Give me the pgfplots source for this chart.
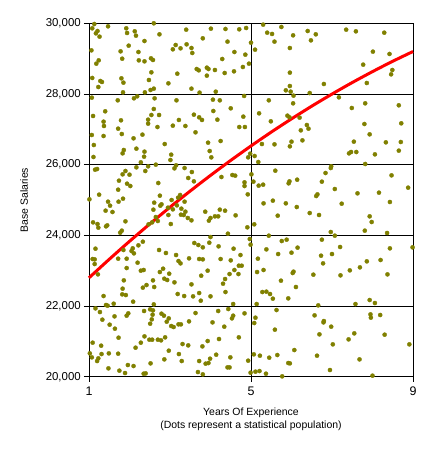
\documentclass[border=0pt]{standalone}
\usepackage{fontspec}
\setmainfont{Liberation Sans}
\usepackage{pgfplots}
\usepackage{pgfplotstable}
\pgfplotsset{compat=1.18}
\definecolor{dotolive}{RGB}{128,128,0}
\pgfplotstableread{
x y
1.13 29980
1.08 29858
1.21 29782
1.17 29716
1.26 29622
1.47 29914
1.92 29858
1.94 29726
2.13 29773
2.16 29650
2.60 30000
2.74 29688
2.37 29499
1.98 29367
3.40 29820
4.01 29848
4.37 29839
4.71 29830
4.88 29867
3.81 29575
4.42 29481
1.06 29235
1.78 29207
2.22 29188
3.07 29264
3.14 29386
3.26 29292
3.41 29405
3.53 29301
3.55 29160
4.59 29188
4.86 29113
4.29 28990
4.95 28858
1.82 28999
2.23 28952
2.37 28924
2.53 29009
2.58 28962
1.24 28952
1.18 28858
1.08 28453
1.28 28368
1.32 28340
1.23 28198
1.80 28443
1.85 28321
2.48 28396
2.54 28613
2.96 28302
3.18 28575
3.66 28707
3.71 28670
3.91 28745
3.95 28707
4.11 28679
4.35 28594
4.58 28641
4.80 28764
3.91 28519
3.53 28151
3.73 28038
4.13 28066
1.84 28047
2.38 28047
2.52 28113
2.60 28151
1.07 27896
1.71 27821
2.11 27878
2.19 27934
2.62 27878
3.16 27821
4.06 27840
4.23 27821
4.83 27944
4.50 27595
4.07 27519
1.10 27378
1.40 27510
1.36 27217
1.37 27095
1.79 27255
1.72 27019
1.81 26868
2.46 27274
2.46 27161
2.54 27406
2.60 27576
2.73 27406
2.69 27066
3.07 27104
3.22 27265
3.38 27095
3.59 27415
3.72 27340
3.79 27265
4.17 27274
3.63 26916
4.71 27066
4.85 27066
4.81 27359
1.07 26840
1.36 26812
2.32 26850
2.10 26746
1.12 26557
1.11 26218
1.86 26416
1.83 26321
2.17 26453
2.37 26369
2.36 26227
2.87 26585
3.03 26284
3.01 26133
3.94 26623
4.25 26670
3.98 26387
4.02 26208
2.28 26067
2.17 25925
2.46 25954
2.65 26001
2.39 25822
3.15 25982
3.11 25897
3.36 25906
3.54 25793
3.45 25624
3.59 25529
1.15 25859
1.20 25878
1.83 25727
1.90 25822
2.00 25718
1.74 25548
1.94 25463
2.02 25397
1.72 25293
1.25 25152
1.01 25020
1.47 24954
1.52 24841
1.41 24699
1.58 24662
1.73 24954
1.84 25039
2.71 25482
2.75 25124
2.61 24926
2.76 24841
2.79 24879
2.59 24728
3.04 25001
2.95 24784
3.07 24737
3.25 25143
3.20 25067
3.36 24954
3.28 24756
3.38 24671
3.27 24586
3.34 24577
3.17 24850
3.44 24492
3.53 24426
2.96 24577
2.65 24520
2.70 24407
2.56 24369
2.47 24313
3.02 24322
4.27 25652
4.54 25708
4.61 25690
4.84 25501
4.84 25397
3.87 24671
4.00 24492
3.96 24417
4.11 24539
4.19 24539
4.23 24728
4.36 24699
4.62 24567
4.00 23954
4.43 24049
1.10 24369
1.21 24322
1.23 24219
1.42 24256
1.45 24284
1.90 24398
1.81 24134
1.77 24077
1.16 23624
2.22 23719
2.33 23822
2.08 23634
2.05 23558
2.11 23492
1.85 23587
2.73 23587
2.90 23502
3.15 23445
3.60 23785
3.70 23728
3.81 23662
3.97 23794
4.20 23690
4.57 23624
4.74 23445
1.09 23332
1.14 23322
1.14 23190
1.22 22898
1.72 23341
1.93 23341
2.20 23228
1.93 23077
2.28 23002
2.35 23021
2.75 22964
2.83 23058
2.98 22917
2.86 22775
2.93 22738
3.11 22672
2.58 22728
2.61 22540
2.33 22521
2.42 22596
1.86 22728
1.83 22493
1.82 22332
1.91 22313
2.09 22125
1.36 22285
1.42 22031
1.46 22012
1.61 22068
3.21 23275
3.26 23209
3.47 23351
3.72 23332
3.81 23322
3.93 23002
3.77 22860
3.53 22615
3.72 22370
3.76 22153
3.57 22276
3.35 22285
3.19 22342
4.00 22276
4.25 23332
4.50 23294
4.70 23143
4.77 23143
4.59 23021
4.47 22907
4.69 22907
4.36 22766
4.31 22634
4.37 22398
4.56 22059
2.60 22049
1.16 21936
1.27 21832
1.33 21616
1.63 21710
1.51 21474
1.64 21361
1.93 21729
1.97 21795
1.73 21106
2.36 21861
2.51 21908
2.58 21880
2.57 21757
2.55 21625
2.51 21502
2.79 21785
2.85 21729
2.97 21653
2.92 21559
3.03 21436
3.09 21408
3.21 21484
3.27 21484
3.47 21568
3.63 21804
4.05 21540
4.19 21861
4.44 21917
4.56 21729
4.53 21653
4.84 21795
4.34 21418
1.09 20965
1.30 20880
1.02 20663
1.07 20550
1.23 20522
1.20 20446
1.31 20644
1.49 20663
1.72 20654
2.15 20823
2.28 20965
2.37 21144
2.49 21050
2.56 21050
2.70 21050
2.78 21031
2.88 21116
2.97 20739
3.31 20927
3.45 20889
3.22 20644
2.86 20493
3.29 20446
3.80 20861
3.93 21012
4.21 21069
4.70 21116
4.14 20625
3.99 20512
3.88 20371
3.95 20390
3.72 20446
4.49 20550
4.93 20456
1.48 20239
1.75 20173
1.89 20107
1.96 20333
2.10 20305
2.35 20088
2.40 20097
2.52 20380
3.69 20135
3.81 20069
4.42 20267
4.47 20267
5.30 29962
5.40 29735
5.52 29698
5.75 29896
6.04 29660
6.40 29782
6.60 29688
6.48 29518
5.58 29481
5.00 29452
5.10 29254
5.96 29301
7.35 29820
7.59 29773
8.29 29735
8.01 29198
8.42 29132
7.77 28830
5.96 28604
5.96 28226
5.86 28104
5.98 28066
6.05 27953
6.45 28028
6.80 28283
7.86 28311
8.49 28679
8.46 28556
7.17 27906
7.49 27604
7.82 27736
8.65 27680
8.71 27170
7.80 27151
7.93 26859
5.44 27821
5.20 27453
5.49 27227
5.90 27387
5.95 27340
6.04 27736
6.20 27331
6.38 27123
6.42 27019
6.23 26972
4.98 26312
4.93 26208
5.09 26246
5.18 26076
5.27 26585
5.58 26576
6.00 26651
5.96 26519
6.27 26689
5.01 25727
5.06 25520
5.19 25407
5.30 25435
4.92 25161
5.60 25831
5.95 25529
5.93 25473
6.14 25576
6.84 25765
6.98 25954
6.97 25906
6.75 25520
7.07 25312
7.54 26651
7.42 26321
7.47 26359
7.60 26359
8.06 26293
8.33 26633
8.70 26642
8.65 26397
7.82 26020
8.47 25699
8.88 25350
7.63 25190
8.16 25209
8.43 24945
7.24 24897
6.61 25114
6.64 25161
6.68 24577
6.45 24633
6.13 24803
5.86 24907
5.54 24982
5.31 24907
5.66 24558
7.93 24539
7.98 24379
7.81 24134
8.36 24068
6.97 24096
7.07 23992
4.91 24228
5.08 24313
5.44 23992
4.97 23898
4.99 23738
5.76 23841
5.88 23879
6.15 23653
6.75 23879
7.20 23672
5.38 23605
5.67 23473
6.00 23511
6.73 23426
7.00 23473
8.43 23634
8.99 23662
5.17 23341
5.15 22964
5.31 23021
5.74 22719
6.03 22936
6.05 22974
6.11 22540
5.28 22398
5.38 22408
5.47 22342
5.54 22210
5.92 22219
5.14 22059
6.78 23209
6.54 22889
7.21 22870
7.44 23011
7.69 23096
7.86 23266
8.20 23304
8.37 22898
6.66 22021
7.93 22172
8.06 22087
7.58 22059
5.63 21889
5.11 21672
5.08 21521
5.59 21333
6.57 21738
6.80 21578
6.79 21540
6.98 21418
6.69 21201
7.95 21766
7.96 21672
8.19 21748
7.41 21059
7.55 21229
8.30 21191
7.02 20918
8.91 20918
5.07 20635
5.22 20597
5.45 20541
5.65 20616
6.07 20757
5.92 20390
5.96 20380
6.63 20597
7.68 20493
4.99 20116
5.11 20145
5.21 20163
5.37 20088
5.77 20013
6.95 20192
8.00 20032
}\dots
\pgfplotstableread{
x y
1.0 22800
1.5 23324
2.0 23832
2.5 24323
3.0 24798
3.5 25256
4.0 25697
4.5 26122
5.0 26530
5.5 26922
6.0 27297
6.5 27656
7.0 27998
7.5 28324
8.0 28633
8.5 28926
9.0 29202
}\trend
\begin{document}
\begin{tikzpicture}
\path[use as bounding box] (-89bp,-73.2bp) rectangle (346bp,376.8bp);
\begin{axis}[
  at={(0,0)}, anchor=south west,
  scale only axis, width=324bp, height=353.5bp,
  xmin=1, xmax=9, ymin=20000, ymax=30000,
  xtick={1,5,9}, ytick={20000,22000,24000,26000,28000,30000},
  grid=major, major grid style={black, line width=0.8bp},
  axis line style={black, line width=0.8bp},
  tick style={black, line width=0.8bp},
  tick align=outside, major tick length=5bp,
  xtick pos=bottom, ytick pos=left,
  scaled ticks=false,
  /pgf/number format/assume math mode=true,
  yticklabel={\pgfmathprintnumber[fixed,1000 sep={,}]{\tick}},
  yticklabel style={font=\fontsize{11.5}{12}\selectfont, inner sep=0pt, xshift=-3bp},
  xticklabel style={font=\fontsize{12.5}{13}\selectfont, inner sep=0pt, yshift=-5bp},
  xlabel={Years Of Experience\\(Dots represent a statistical population)},
  xlabel style={at={(axis description cs:0.5,-0.087)}, anchor=north, align=center, inner sep=0pt, font=\fontsize{10.5}{13}\selectfont},
  ylabel={Base Salaries},
  ylabel style={at={(axis description cs:-0.2,0.5)}, anchor=center, inner sep=0pt, font=\fontsize{10.5}{13}\selectfont},
  clip=false,
]
\addplot[only marks, color=dotolive, mark=*, mark size=2.1bp, mark options={draw=dotolive, fill=dotolive, line width=0.3bp}] table[x=x,y=y] {\dots};
\addplot[red, line width=3bp, smooth] table[x=x,y=y] {\trend};
\end{axis}
\end{tikzpicture}
\end{document}
